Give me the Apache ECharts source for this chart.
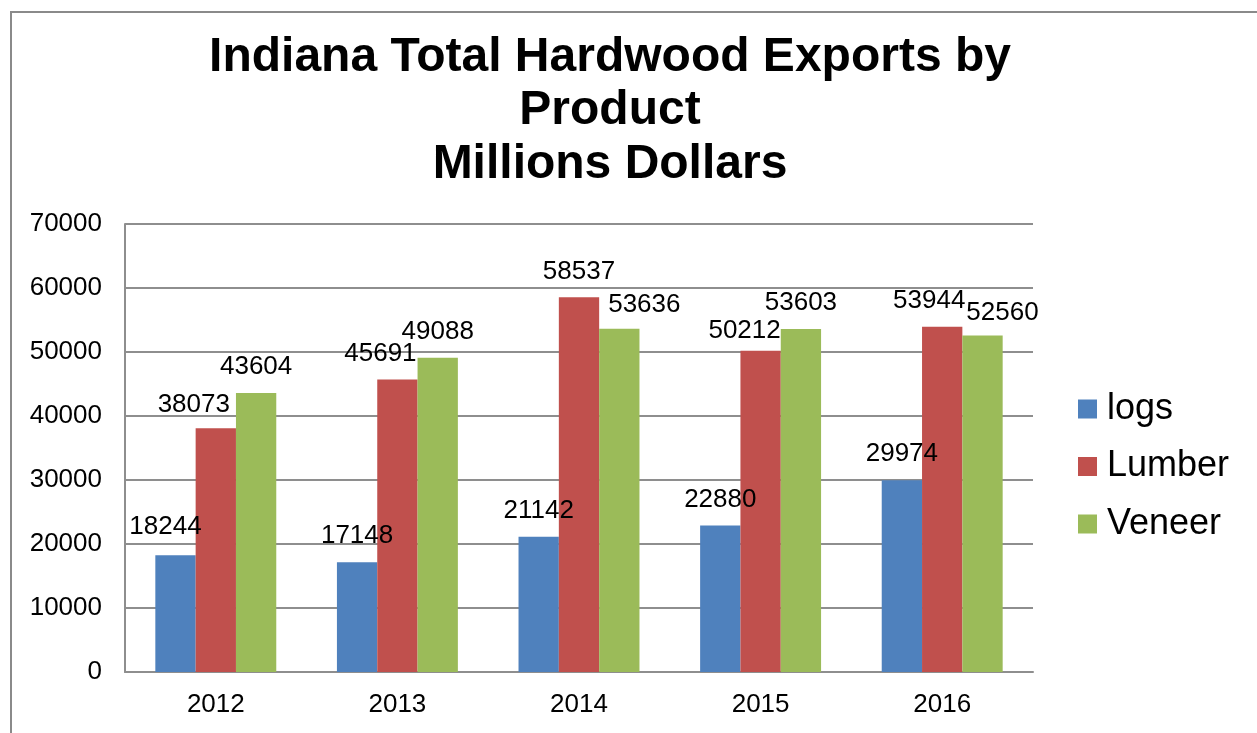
<!DOCTYPE html>
<html>
<head>
<meta charset="utf-8">
<title>Indiana Total Hardwood Exports by Product</title>
<script src="https://cdn.jsdelivr.net/npm/echarts@6/dist/echarts.min.js"></script>
<style>
  html, body { margin: 0; padding: 0; background: #ffffff; }
  #chart { width: 1257px; height: 733px; }
</style>
</head>
<body>
<div id="chart"></div>
<script>
// Export values (millions of dollars) per product and year
const years = ['2012', '2013', '2014', '2015', '2016'];
const logs = [18244, 17148, 21142, 22880, 29974];
const lumber = [38073, 45691, 58537, 50212, 53944];
const veneer = [43604, 49088, 53636, 53603, 52560];
const seriesNames = ['logs', 'Lumber', 'Veneer'];

// Value-label nudges [dx, dy] in pixels so neighbouring labels don't collide
const labelNudge = [
  [[-10, -2], [0, 0], [0, 0], [0, 0], [0, 0]],
  [[-22, 2], [-17, 0], [0, 0], [-16, 6], [-13, 0]],
  [[0, 0], [0, 0], [25, 2], [0, 0], [20, 3]]
];

const FONT = "'Liberation Sans', Arial, sans-serif";
const colors = ['#4F81BD', '#C0504D', '#9BBB59'];
const gridColor = '#8e8e8e';

function buildSeries(name, values, idx) {
  return {
    name: name,
    type: 'bar',
    barGap: '0%',
    barCategoryGap: '33.4%',
    itemStyle: { color: colors[idx] },
    label: {
      show: true,
      position: 'top',
      distance: 13,
      color: '#000',
      fontFamily: FONT,
      fontSize: 26,
      lineHeight: 26
    },
    data: values.map((v, i) => ({
      value: v,
      label: { offset: labelNudge[idx][i] }
    }))
  };
}

const chart = echarts.init(document.getElementById('chart'), null, { renderer: 'canvas' });

chart.setOption({
  animation: false,
  backgroundColor: '#ffffff',
  color: colors,
  textStyle: { fontFamily: FONT },
  title: [
    { text: 'Indiana Total Hardwood Exports by', top: 34 },
    { text: 'Product', top: 87 },
    { text: 'Millions Dollars', top: 141 }
  ].map(t => ({
    text: t.text,
    left: 610,
    top: t.top,
    textAlign: 'center',
    padding: 0,
    textStyle: {
      fontFamily: FONT,
      fontWeight: 'bold',
      fontSize: 48,
      lineHeight: 48,
      color: '#000'
    }
  })),
  graphic: [
    {
      type: 'rect',
      shape: { x: 11, y: 12, width: 1400, height: 900 },
      style: { fill: 'none', stroke: '#8a8a8a', lineWidth: 2 },
      silent: true,
      z: -1
    }
  ],
  legend: {
    orient: 'vertical',
    left: 1078,
    top: 391,
    itemWidth: 19,
    itemHeight: 19,
    itemGap: 21.5,
    icon: 'rect',
    padding: 0,
    data: seriesNames,
    textStyle: {
      fontFamily: FONT,
      fontSize: 36,
      lineHeight: 36,
      color: '#000',
      padding: [0, 0, 0, 5]
    }
  },
  grid: {
    left: 125,
    right: 224,
    top: 224,
    bottom: 61,
    containLabel: false
  },
  xAxis: {
    type: 'category',
    data: years,
    axisLine: { show: true, lineStyle: { color: gridColor, width: 2 } },
    axisTick: { show: false },
    axisLabel: {
      color: '#000',
      fontFamily: FONT,
      fontSize: 26,
      lineHeight: 26,
      margin: 20
    }
  },
  yAxis: {
    type: 'value',
    min: 0,
    max: 70000,
    interval: 10000,
    axisLine: { show: true, lineStyle: { color: gridColor, width: 2 } },
    axisTick: { show: false },
    splitLine: { show: true, lineStyle: { color: gridColor, width: 2 } },
    axisLabel: {
      color: '#000',
      fontFamily: FONT,
      fontSize: 26,
      lineHeight: 26,
      margin: 23,
      formatter: v => String(v)
    }
  },
  series: [
    buildSeries(seriesNames[0], logs, 0),
    buildSeries(seriesNames[1], lumber, 1),
    buildSeries(seriesNames[2], veneer, 2)
  ]
});
</script>
</body>
</html>
